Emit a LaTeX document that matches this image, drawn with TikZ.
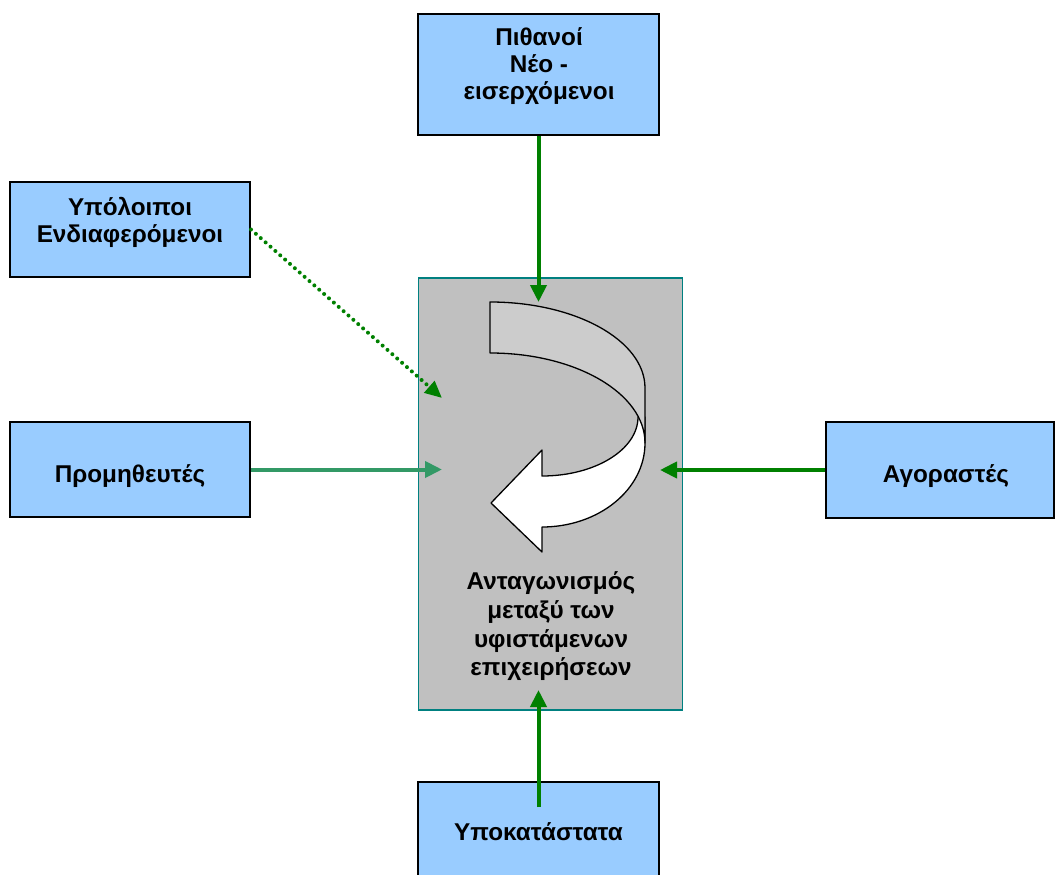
\documentclass[tikz,border=0pt]{standalone}
\usepackage{fontspec}
\setmainfont{Liberation Sans}
\usetikzlibrary{arrows.meta}
\definecolor{boxblue}{HTML}{99CCFF}
\definecolor{coregrey}{HTML}{C0C0C0}
\definecolor{coreteal}{HTML}{008080}
\definecolor{arrgreen}{HTML}{008000}
\definecolor{seagreen}{HTML}{339966}
\definecolor{bandgrey}{HTML}{CCCCCC}
\begin{document}
\begin{tikzpicture}[x=1pt,y=-1pt,
  bluebox/.style={draw=black, line width=2pt, fill=boxblue, inner sep=0pt},
  corebox/.style={draw=coreteal, line width=1.8pt, fill=coregrey, inner sep=0pt},
  lbl/.style={inner sep=0pt, anchor=base, font=\fontsize{24.3}{27}\selectfont\bfseries},
  garrow/.style={draw=arrgreen, line width=4pt, -{Triangle[length=17pt,width=16pt]}},
  sarrow/.style={draw=seagreen, line width=4pt, -{Triangle[length=17pt,width=16pt]}},
  darrow/.style={draw=arrgreen, line width=4pt, line cap=round, dash pattern=on 0pt off 6.5pt, -{Triangle[length=17pt,width=15pt]}},
  band/.style={draw=black, line width=1.3pt, line join=round}
]
\useasboundingbox (0,0) rectangle (1055,875);

% boxes
\node[bluebox, minimum width=241pt, minimum height=121pt] (pith) at (538.5,74.5) {};
\node[bluebox, minimum width=240pt, minimum height=95pt] (ypo) at (130,229.5) {};
\node[bluebox, minimum width=240pt, minimum height=95pt] (prom) at (130,469.5) {};
\node[bluebox, minimum width=228pt, minimum height=96pt] (agor) at (940,470) {};
\node[bluebox, minimum width=241pt, minimum height=108pt] (ypok) at (538.5,836) {};
\node[corebox, minimum width=264pt, minimum height=432pt] (core) at (550.5,494) {};

% curved ribbon arrow: white front part
\filldraw[band, fill=white] (645,417) -- (645,443)
  .. controls (645,489.4) and (598.9,527) .. (542,527)
  -- (542,552) -- (491,503) -- (542,450) -- (542,476)
  .. controls (595,476) and (638,449.6) .. (638,417) -- cycle;
% grey back part
\filldraw[band, fill=bandgrey] (490,302)
  .. controls (575.6,302) and (645,340.5) .. (645,388)
  -- (645,443)
  .. controls (645,393.3) and (575.6,353) .. (490,353) -- cycle;

% texts
\node[lbl] (tpith) at (539,46) {\begin{tabular}[t]{@{}c@{}}Πιθανοί\\Νέο -\\εισερχόμενοι\end{tabular}};
\node[lbl] (typo) at (130,215) {\begin{tabular}[t]{@{}c@{}}Υπόλοιποι\\Ενδιαφερόμενοι\end{tabular}};
\node[lbl] (tprom) at (130,482) {Προμηθευτές};
\node[lbl] (tagor) at (946,482) {Αγοραστές};
\node[lbl] (tcore) at (551,589) {\renewcommand{\arraystretch}{1.074}\begin{tabular}[t]{@{}c@{}}Ανταγωνισμός\\μεταξύ των\\υφιστάμενων\\επιχειρήσεων\end{tabular}};
\node[lbl] (typok) at (538.5,840) {Υποκατάστατα};

% arrow end points
\coordinate (tipTop) at (538.5,302);
\coordinate (tipDot) at (442,398);
\coordinate (tipProm) at (442,469.5);
\coordinate (tipAgor) at (660,470);
\coordinate (startBot) at (538.5,807);
\coordinate (tipBot) at (538.5,690);

% connectors
\draw[garrow] (pith.south) -- (tipTop);
\draw[darrow] (ypo.east) -- (tipDot);
\draw[sarrow] (prom.east) -- (tipProm);
\draw[garrow] (agor.west) -- (tipAgor);
\draw[garrow] (startBot) -- (tipBot);
\end{tikzpicture}
\end{document}
